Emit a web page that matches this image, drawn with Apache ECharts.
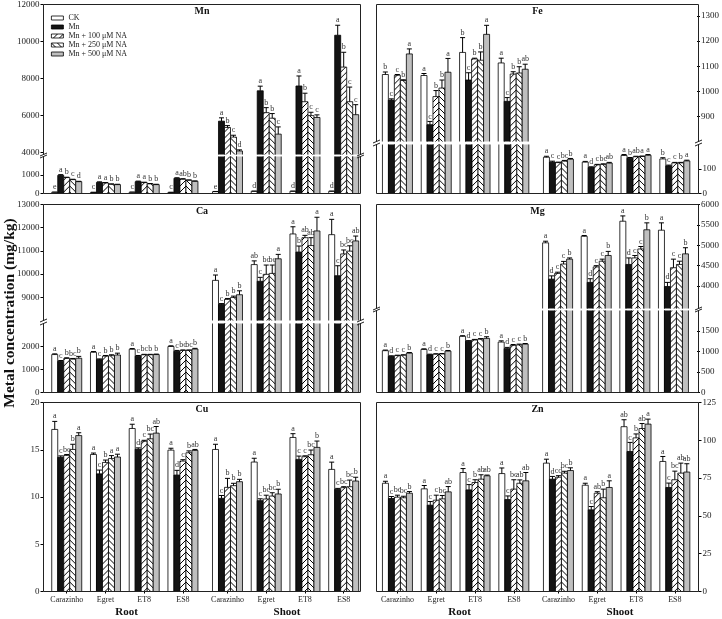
<!DOCTYPE html>
<html>
<head>
<meta charset="utf-8">
<script src="https://cdn.jsdelivr.net/npm/echarts@6.0.0/dist/echarts.min.js"></script>
<style>
html, body { margin: 0; padding: 0; background: #fff; }
#chart { width: 722px; height: 619px; }
</style>
</head>
<body>
<div id="chart"></div>
<script>
// 品种与处理
const genotypes = ['Carazinho', 'Egret', 'ET8', 'ES8', 'Carazinho', 'Egret', 'ET8', 'ES8'];
const treatments = ['CK', 'Mn', 'Mn + 100 μM NA', 'Mn + 250 μM NA', 'Mn + 500 μM NA'];

// 每行一个处理, 前4个为根, 后4个为地上部
const mnMean = [
    [70, 60, 70, 60, 100, 120, 120, 120],
    [980, 600, 640, 820, 5700, 7340, 7600, 10340],
    [860, 570, 590, 770, 5360, 6160, 6750, 8620],
    [750, 500, 520, 715, 4840, 5860, 6000, 6750],
    [640, 480, 480, 660, 4090, 5000, 5900, 6050]
];
const mnErr = [
    [5, 5, 5, 5, 10, 10, 10, 10],
    [40, 30, 30, 30, 180, 250, 540, 540],
    [20, 20, 20, 30, 100, 270, 460, 800],
    [20, 20, 20, 20, 100, 250, 180, 790],
    [20, 20, 20, 20, 60, 390, 140, 540]
];
const mnSig = [
    'e c c c e d d d'.split(' '),
    'a a a a a a a a'.split(' '),
    'b a a ab b b b b'.split(' '),
    'c b b b c b c c'.split(' '),
    'd b b b d c c c'.split(' ')
];
const mnTicks = [0, 1000, 4000, 6000, 8000, 10000, 12000];

const feMean = [
    [1067, 1063, 1155, 1113, 148, 128, 155, 141],
    [965, 867, 1045, 960, 128, 106, 144, 113],
    [1064, 979, 1129, 1069, 126, 117, 150, 125],
    [1043, 1013, 1124, 1073, 132, 119, 151, 125],
    [1149, 1076, 1227, 1088, 140, 124, 156, 133]
];
const feErr = [
    [10, 8, 59, 19, 4, 3, 4, 5],
    [5, 13, 29, 15, 4, 3, 3, 3],
    [3, 24, 3, 9, 2, 2, 2, 2],
    [3, 32, 33, 25, 3, 2, 2, 2],
    [20, 55, 36, 20, 3, 3, 3, 3]
];
const feSig = [
    'b a b a a a a b'.split(' '),
    'c c c c c d b c'.split(' '),
    'c b b b c c ab c'.split(' '),
    'b b b b bc bc a b'.split(' '),
    'a a a ab b ab a a'.split(' ')
];
const feTicks = [0, 100, 900, 1000, 1100, 1200, 1300];

const caMean = [
    [1650, 1750, 1880, 2000, 9730, 10410, 11730, 11700],
    [1350, 1430, 1580, 1790, 8690, 9690, 10950, 9930],
    [1480, 1580, 1640, 1830, 8910, 9990, 11570, 10870],
    [1450, 1600, 1640, 1830, 8990, 10030, 11230, 10990],
    [1490, 1630, 1650, 1890, 9110, 10660, 11860, 11430]
];
const caErr = [
    [30, 30, 30, 30, 230, 160, 310, 660],
    [40, 30, 30, 40, 40, 170, 260, 430],
    [30, 30, 20, 20, 40, 400, 100, 170],
    [30, 40, 20, 20, 60, 360, 340, 230],
    [80, 80, 20, 30, 170, 190, 590, 210]
];
const caSig = [
    'a a a a a ab a a'.split(' '),
    'c c c c c c b c'.split(' '),
    'b b bc bc b bc ab bc'.split(' '),
    'bc b b bc b bc ab bc'.split(' '),
    'b b b b b a a ab'.split(' ')
];
const caTicks = [0, 1000, 2000, 9000, 10000, 11000, 12000, 13000];

const mgMean = [
    [1020, 1050, 1370, 1230, 5060, 5220, 5590, 5370],
    [880, 920, 1250, 1070, 4170, 4090, 4530, 3990],
    [900, 935, 1280, 1150, 4310, 4470, 4690, 4450],
    [910, 940, 1300, 1160, 4540, 4610, 4910, 4530],
    [960, 1010, 1320, 1180, 4660, 4750, 5380, 4790]
];
const mgErr = [
    [15, 15, 15, 30, 40, 20, 130, 180],
    [15, 15, 15, 30, 80, 90, 160, 100],
    [10, 10, 15, 20, 30, 30, 60, 210],
    [10, 10, 15, 20, 65, 50, 60, 80],
    [15, 15, 40, 15, 30, 100, 170, 150]
];
const mgSig = [
    'a a a a a a a a'.split(' '),
    'd d d d d d d d'.split(' '),
    'c c c c c c c c'.split(' '),
    'c c c c c c c c'.split(' '),
    'b b b b b b b b'.split(' ')
];
const mgTicks = [0, 500, 1000, 1500, 4000, 4500, 5000, 5500, 6000];

const cuMean = [
    [17.15, 14.5, 17.25, 14.96, 15.03, 13.7, 16.3, 12.92],
    [14.2, 12.45, 15.05, 12.32, 9.86, 9.61, 13.98, 10.81],
    [14.4, 13.66, 15.9, 13.8, 11.02, 9.79, 14.26, 10.99],
    [15.03, 14.08, 16.16, 14.68, 11.2, 10.1, 14.47, 11.09],
    [16.5, 14.23, 16.76, 14.93, 11.62, 10.32, 15.25, 11.69]
];
const cuErr = [
    [0.85, 0.15, 0.45, 0.2, 0.55, 0.4, 0.4, 0.77],
    [0.15, 0.4, 0.15, 0.5, 0.3, 0.2, 0.35, 0.1],
    [0.1, 0.25, 0.1, 0.15, 0.95, 0.4, 0.1, 0.1],
    [0.55, 0.3, 0.5, 0.2, 0.25, 0.35, 0.5, 0.7],
    [0.3, 0.3, 0.7, 0.1, 0.25, 0.5, 0.67, 0.4]
];
const cuSig = [
    'a a a a a a a a'.split(' '),
    'c c d d c c c c'.split(' '),
    'bc b c c b bc c bc'.split(' '),
    'b a bc b b bc bc bc'.split(' '),
    'a a ab ab b b b b'.split(' ')
];
const cuTicks = [0, 5, 10, 15, 20];

const znMean = [
    [71.6, 67.9, 78.7, 78, 84.9, 70.3, 109, 86],
    [61.5, 57.1, 67.2, 60.8, 74.3, 54, 92.6, 68.8],
    [62.4, 60.4, 72.1, 67.7, 75.6, 65, 101.6, 73.9],
    [62, 61.3, 74.3, 71.6, 78.3, 62, 107.8, 78.3],
    [65, 65.9, 76.5, 73.2, 80, 68.8, 110.7, 79]
];
const znErr = [
    [1.3, 2.2, 2.6, 3.7, 2.6, 1.3, 4.6, 3.3],
    [1.3, 2.4, 3.5, 2.4, 1.8, 2.2, 6, 2.9],
    [1.3, 3.3, 1.8, 6.2, 1, 1, 2.6, 5.7],
    [1, 2.2, 2.9, 2.2, 1.2, 5.7, 3.3, 6.6],
    [1.1, 3.5, 0.5, 5.5, 1.8, 4.4, 3.3, 5.5]
];
const znSig = [
    'a a a a a a ab a'.split(' '),
    'c c c c d c c c'.split(' '),
    'bc c b bc cd ab b bc'.split(' '),
    'bc bc ab ab bc b ab ab'.split(' '),
    'b ab ab ab b a a ab'.split(' ')
];
const znTicks = [0, 25, 50, 75, 100, 125];

const FONT = '"Liberation Serif", "DejaVu Serif", serif';
const BAR_W = 6;
const colors = ['#ffffff', '#141414', null, null, '#bfbfbf'];

// 根与地上部之间留一点空隙
function groupPos(i) {
    return i < 4 ? i : i + 0.15;
}
const groupPositions = genotypes.map((g, i) => groupPos(i));
function catName(v) {
    const i = groupPositions.findIndex(p => Math.abs(p - v) < 1e-6);
    return i >= 0 ? genotypes[i] : '';
}

// 斜线填充
function hatch(dir) {
    const c = document.createElement('canvas');
    c.width = 6;
    c.height = 6;
    const ctx = c.getContext('2d');
    ctx.fillStyle = '#fff';
    ctx.fillRect(0, 0, 6, 6);
    ctx.strokeStyle = '#000';
    ctx.lineWidth = 1;
    ctx.beginPath();
    if (dir > 0) {
        ctx.moveTo(0, 6); ctx.lineTo(6, 0);
        ctx.moveTo(-1, 1); ctx.lineTo(1, -1);
        ctx.moveTo(5, 7); ctx.lineTo(7, 5);
    } else {
        ctx.moveTo(0, 0); ctx.lineTo(6, 6);
        ctx.moveTo(5, -1); ctx.lineTo(7, 1);
        ctx.moveTo(-1, 5); ctx.lineTo(1, 7);
    }
    ctx.stroke();
    return c;
}
const hatchA = hatch(1);
const hatchB = hatch(-1);

function fillFor(k, x) {
    if (k === 2) return { image: hatchA, repeat: 'repeat', x: x, y: 0 };
    if (k === 3) return { image: hatchB, repeat: 'repeat', x: x, y: 0 };
    return colors[k];
}

// 面板布局 (像素)
const LX = { left: 43.5, right: 360.5, xMin: -0.6, xMax: 7.584 };
const RX = { left: 376.5, right: 698.5, xMin: -0.54, xMax: 7.76 };
const panels = [
    Object.assign({ title: 'Mn', mean: mnMean, err: mnErr, sig: mnSig, ticks: mnTicks, side: 'left', top: 4.5, bottom: 193.5,
        segs: [{ min: 0, max: 2000, top: 156.5, bottom: 193.5 }, { min: 3900, max: 12000, top: 4.5, bottom: 154.5 }] }, LX),
    Object.assign({ title: 'Fe', mean: feMean, err: feErr, sig: feSig, ticks: feTicks, side: 'right', top: 4.5, bottom: 193.5,
        segs: [{ min: 0, max: 200, top: 144.5, bottom: 193.5 }, { min: 800, max: 1346, top: 4.5, bottom: 141.5 }] }, RX),
    Object.assign({ title: 'Ca', mean: caMean, err: caErr, sig: caSig, ticks: caTicks, side: 'left', top: 204.5, bottom: 392.5,
        segs: [{ min: 0, max: 3000, top: 323.5, bottom: 392.5 }, { min: 8000, max: 13000, top: 204.5, bottom: 320.5 }] }, LX),
    Object.assign({ title: 'Mg', mean: mgMean, err: mgErr, sig: mgSig, ticks: mgTicks, side: 'right', top: 204.5, bottom: 392.5,
        segs: [{ min: 0, max: 2000, top: 310.5, bottom: 392.5 }, { min: 3450, max: 6000, top: 204.5, bottom: 308.5 }] }, RX),
    Object.assign({ title: 'Cu', mean: cuMean, err: cuErr, sig: cuSig, ticks: cuTicks, side: 'left', top: 402.5, bottom: 591.5, cats: true,
        segs: [{ min: 0, max: 20, top: 402.5, bottom: 591.5 }] }, LX),
    Object.assign({ title: 'Zn', mean: znMean, err: znErr, sig: znSig, ticks: znTicks, side: 'right', top: 402.5, bottom: 591.5, cats: true,
        segs: [{ min: 0, max: 125, top: 402.5, bottom: 591.5 }] }, RX)
];

function makeBar(P, k, seg) {
    return function (params, api) {
        const i = params.dataIndex;
        const v = api.value(1);
        if (v <= seg.min) return null;
        const xc = api.coord([api.value(0), seg.min])[0] + (k - 2) * BAR_W;
        const y0 = api.coord([0, seg.min])[1];
        const cut = v > seg.max;
        const yTop = api.coord([0, Math.min(v, seg.max)])[1];
        const x = xc - BAR_W / 2;
        const edge = { stroke: '#000', lineWidth: 0.8, fill: null };
        const children = [{
            type: 'rect',
            shape: { x: x, y: yTop, width: BAR_W, height: y0 - yTop },
            style: { fill: fillFor(k, x) }
        }];
        // 被断轴截断的一端不画边
        if (cut) {
            children.push({ type: 'line', shape: { x1: x, y1: y0, x2: x, y2: yTop }, style: edge });
            children.push({ type: 'line', shape: { x1: x + BAR_W, y1: y0, x2: x + BAR_W, y2: yTop }, style: edge });
        } else {
            children.push({
                type: 'polyline',
                shape: { points: [[x, y0], [x, yTop], [x + BAR_W, yTop], [x + BAR_W, y0]] },
                style: edge
            });
            const e = P.err[k][i];
            const yE = api.coord([0, v + e])[1];
            children.push({
                type: 'line',
                shape: { x1: xc, y1: yTop, x2: xc, y2: yE },
                style: { stroke: '#000', lineWidth: 1 }
            });
            children.push({
                type: 'line',
                shape: { x1: xc - 2.5, y1: yE, x2: xc + 2.5, y2: yE },
                style: { stroke: '#000', lineWidth: 1 }
            });
            children.push({
                type: 'text',
                x: xc,
                y: yE - 1,
                style: {
                    text: P.sig[k][i], fill: '#333', font: '8px ' + FONT,
                    align: 'center', verticalAlign: 'bottom',
                    textAlign: 'center', textVerticalAlign: 'bottom'
                }
            });
        }
        return { type: 'group', children: children };
    };
}

const grids = [], xAxes = [], yAxes = [], series = [], titles = [], graphics = [];

panels.forEach(P => {
    P.segs.forEach((seg, si) => {
        const gi = grids.length;
        grids.push({ left: P.left, top: seg.top, width: P.right - P.left, height: seg.bottom - seg.top });
        xAxes.push({
            type: 'value', gridIndex: gi, min: P.xMin, max: P.xMax,
            show: !!P.cats && si === 0,
            axisLine: { show: false, onZero: false },
            splitLine: { show: false },
            axisTick: { show: true, customValues: groupPositions, length: 2, lineStyle: { color: '#000' } },
            axisLabel: { customValues: groupPositions, formatter: catName, fontSize: 8, color: '#222', margin: 4, fontFamily: FONT }
        });
        const ticks = P.ticks.filter(t => t >= seg.min && t <= seg.max);
        yAxes.push({
            type: 'value', gridIndex: gi, min: seg.min, max: seg.max, position: P.side,
            axisLine: { show: false, onZero: false },
            splitLine: { show: false },
            axisTick: { show: true, customValues: ticks, length: 3, lineStyle: { color: '#000' } },
            axisLabel: { customValues: ticks, formatter: v => String(v), fontSize: 9, color: '#222', margin: 4, fontFamily: FONT }
        });
        treatments.forEach((t, k) => {
            series.push({
                type: 'custom',
                name: t,
                xAxisIndex: gi,
                yAxisIndex: gi,
                encode: { x: 0, y: 1 },
                data: P.mean[k].map((v, i) => [groupPos(i), v]),
                renderItem: makeBar(P, k, seg)
            });
        });
    });

    titles.push({
        text: P.title, left: (P.left + P.right) / 2, top: P.top + 2, textAlign: 'center', padding: 0,
        textStyle: { fontSize: 10, fontWeight: 'bold', fontFamily: FONT, color: '#111' }
    });

    // 边框与断轴符号
    const line = (x1, y1, x2, y2) => graphics.push({
        type: 'line', z: 100, silent: true,
        shape: { x1: x1, y1: y1, x2: x2, y2: y2 },
        style: { stroke: '#222', lineWidth: 1 }
    });
    line(P.left, P.top, P.right, P.top);
    line(P.left, P.bottom, P.right, P.bottom);
    if (P.segs.length === 1) {
        line(P.left, P.top, P.left, P.bottom);
        line(P.right, P.top, P.right, P.bottom);
    } else {
        const lo = P.segs[0], hi = P.segs[1];
        [P.left, P.right].forEach(x => {
            line(x, P.top, x, hi.bottom);
            line(x, lo.top, x, P.bottom);
            line(x - 3.5, hi.bottom + 1.5, x + 3.5, hi.bottom - 1.5);
            line(x - 3.5, lo.top + 1.5, x + 3.5, lo.top - 1.5);
        });
    }
    if (P.cats) {
        [['Root', 83], ['Shoot', 243.5]].forEach(r => graphics.push({
            type: 'text', z: 100, silent: true, x: P.left + r[1], y: 612,
            style: {
                text: r[0], font: 'bold 11px ' + FONT, fill: '#111',
                align: 'center', verticalAlign: 'middle', textAlign: 'center', textVerticalAlign: 'middle'
            }
        }));
    }
});

graphics.push({
    type: 'text', z: 100, silent: true, x: 10, y: 313, rotation: Math.PI / 2,
    style: {
        text: 'Metal concentration (mg/kg)', font: 'bold 15.5px ' + FONT, fill: '#111',
        align: 'center', verticalAlign: 'middle', textAlign: 'center', textVerticalAlign: 'middle'
    }
});

let myChart = echarts.init(document.getElementById('chart'));
let option = {
    animation: false,
    backgroundColor: '#fff',
    textStyle: { fontFamily: FONT },
    title: titles,
    legend: {
        orient: 'vertical',
        left: 51,
        top: 13.5,
        padding: 0,
        itemGap: 0,
        itemWidth: 12,
        itemHeight: 4,
        icon: 'rect',
        selectedMode: false,
        textStyle: { fontSize: 8, lineHeight: 9, color: '#222', fontFamily: FONT },
        data: treatments.map((t, k) => ({
            name: t,
            itemStyle: { color: k === 2 || k === 3 ? { image: k === 2 ? hatchA : hatchB, repeat: 'repeat' } : colors[k], borderColor: '#000', borderWidth: 0.8 }
        }))
    },
    grid: grids,
    xAxis: xAxes,
    yAxis: yAxes,
    series: series,
    graphic: { elements: graphics }
};

myChart.setOption(option);
window.addEventListener('resize', function () {
    myChart.resize();
});
</script>
</body>
</html>
